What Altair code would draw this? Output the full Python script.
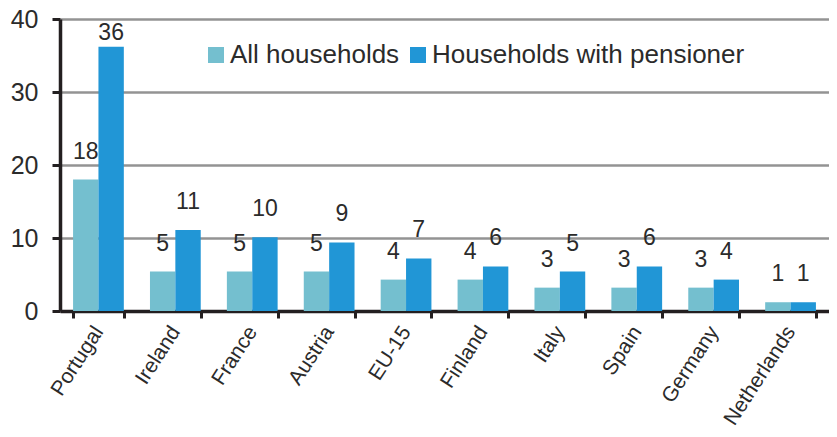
import altair as alt
import pandas as pd

countries = ["Portugal", "Ireland", "France", "Austria", "EU-15", "Finland",
             "Italy", "Spain", "Germany", "Netherlands"]
all_households = [18.0, 5.4, 5.4, 5.4, 4.3, 4.3, 3.2, 3.2, 3.2, 1.2]
with_pensioner = [36.2, 11.1, 10.1, 9.4, 7.2, 6.1, 5.4, 6.1, 4.3, 1.2]
series_names = ["All households", "Households with pensioner"]
colors = ["#74BFCF", "#2196D6"]

rows = []
for c, a, p in zip(countries, all_households, with_pensioner):
    rows.append({"country": c, "series": series_names[0], "value": a})
    rows.append({"country": c, "series": series_names[1], "value": p})
df = pd.DataFrame(rows)

FONT = "Liberation Sans"
TXT = "#2b2b2b"

x = alt.X("country:N", sort=countries, title=None,
          scale=alt.Scale(paddingInner=0.34, paddingOuter=0.17),
          axis=alt.Axis(labelAngle=-57, labelAlign="right", labelBaseline="middle",
                        labelFontSize=21, labelPadding=10, tickBand="extent",
                        tickSize=7, tickWidth=3, tickColor="#231F20",
                        domainColor="#231F20", domainWidth=3.5, labelColor=TXT,
                        labelFont=FONT, grid=False))
xoff = alt.XOffset("series:N", sort=series_names,
                   scale=alt.Scale(paddingInner=0, paddingOuter=0))

base = alt.Chart(df)

bars = base.mark_bar().encode(
    x=x,
    xOffset=xoff,
    y=alt.Y("value:Q", title=None,
            scale=alt.Scale(domain=[0, 40], nice=False),
            axis=alt.Axis(values=[0, 10, 20, 30, 40], labelFontSize=25,
                          labelFont=FONT, labelColor=TXT, labelPadding=14,
                          tickSize=8, tickWidth=3, tickColor="#231F20",
                          domainColor="#231F20", domainWidth=3.5,
                          grid=True, gridColor="#939393", gridWidth=2.5)),
    color=alt.Color("series:N", sort=series_names,
                    scale=alt.Scale(domain=series_names, range=colors),
                    legend=alt.Legend(title=None, orient="none", legendX=143, legendY=23,
                                      direction="horizontal", symbolType="square",
                                      symbolSize=256, symbolStrokeWidth=0,
                                      labelFontSize=26, labelFont=FONT, labelColor=TXT,
                                      labelOffset=1, columnPadding=5,
                                      labelLimit=400)),
)

labels = base.transform_calculate(
    ly="min(datum.value + 2.2, 36.5)"
).mark_text(baseline="bottom", align="center", fontSize=23, font=FONT, color=TXT).encode(
    x=alt.X("country:N", sort=countries),
    xOffset=alt.XOffset("series:N", sort=series_names),
    y=alt.Y("ly:Q"),
    text=alt.Text("value:Q", format=".0f"),
)

chart = (bars + labels).properties(
    width=769, height=292,
    autosize=alt.AutoSizeParams(type="none"),
    padding={"left": 52, "top": 11, "right": 0, "bottom": 126},
).configure_view(stroke=None)

chart.save("out.html", embed_options={"renderer": "svg", "actions": False})
